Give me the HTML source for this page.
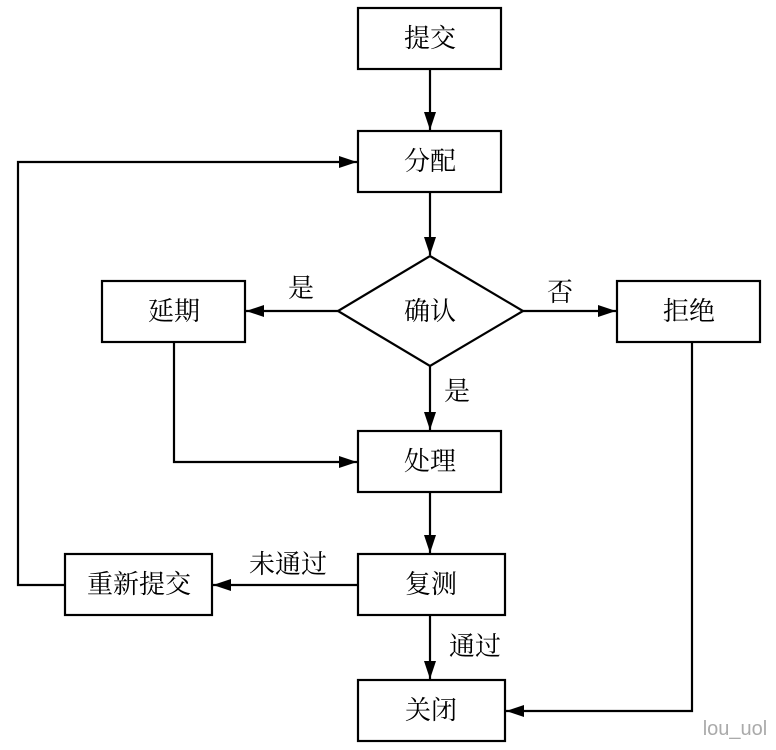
<!DOCTYPE html>
<html><head><meta charset="utf-8"><style>
html,body{margin:0;padding:0;background:#fff;}
svg{display:block;}
text{font-family:"Noto Serif CJK SC","Liberation Serif",serif;font-size:26px;fill:#000;}
</style></head><body>
<svg width="776" height="750" viewBox="0 0 776 750" xmlns="http://www.w3.org/2000/svg">
<defs><marker id="a" markerWidth="18" markerHeight="12" refX="18" refY="6" orient="auto" markerUnits="userSpaceOnUse"><path d="M0,0 L18,6 L0,12 Z" fill="#000"/></marker></defs>
<g fill="none" stroke="#000" stroke-width="2.2">
<rect x="358" y="8" width="143" height="61"/>
<rect x="358" y="131" width="143" height="61"/>
<polygon points="430,256 523,311 430,366 338,311"/>
<rect x="102" y="281" width="143" height="61"/>
<rect x="617" y="281" width="143" height="61"/>
<rect x="358" y="431" width="143" height="61"/>
<rect x="358" y="554" width="147" height="61"/>
<rect x="65" y="554" width="147" height="61"/>
<rect x="358" y="680" width="147" height="61"/>
<line x1="430" y1="69" x2="430" y2="130" marker-end="url(#a)"/>
<line x1="430" y1="192" x2="430" y2="255" marker-end="url(#a)"/>
<line x1="338" y1="311" x2="246" y2="311" marker-end="url(#a)"/>
<line x1="523" y1="311" x2="616" y2="311" marker-end="url(#a)"/>
<line x1="430" y1="366" x2="430" y2="430" marker-end="url(#a)"/>
<line x1="430" y1="492" x2="430" y2="553" marker-end="url(#a)"/>
<line x1="430" y1="615" x2="430" y2="679" marker-end="url(#a)"/>
<line x1="358" y1="585" x2="213" y2="585" marker-end="url(#a)"/>
<polyline points="174,342 174,462 357,462" marker-end="url(#a)"/>
<polyline points="65,585 18,585 18,162 357,162" marker-end="url(#a)"/>
<polyline points="692,342 692,711 506,711" marker-end="url(#a)"/>
</g>
<g text-anchor="middle">
<text x="430" y="47">提交</text>
<text x="430" y="170">分配</text>
<text x="430" y="320">确认</text>
<text x="174" y="320">延期</text>
<text x="689" y="320">拒绝</text>
<text x="430" y="470">处理</text>
<text x="431" y="593">复测</text>
<text x="139" y="593">重新提交</text>
<text x="431" y="719">关闭</text>
<text x="301" y="297">是</text>
<text x="560" y="301">否</text>
<text x="457" y="400">是</text>
<text x="288" y="573">未通过</text>
<text x="475" y="655">通过</text>
</g>
<text x="735" y="735" text-anchor="middle" style="font-family:'Liberation Sans',sans-serif;font-size:20px;fill:#aaa">lou_uol</text>
</svg>
</body></html>
